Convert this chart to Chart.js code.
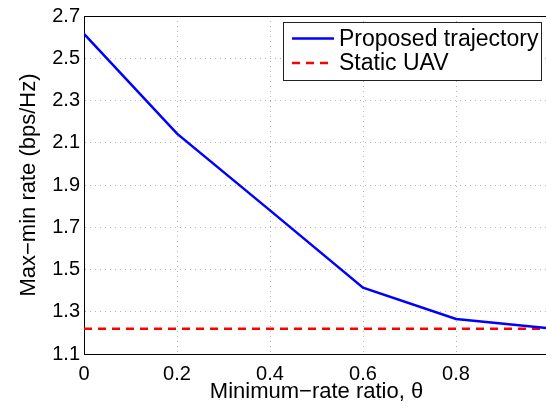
<!DOCTYPE html>
<html>
<head>
<meta charset="utf-8">
<script src="https://cdn.jsdelivr.net/npm/chart.js@4"></script>
<style>
  html, body { margin: 0; padding: 0; overflow: hidden; background: #fff; }
  #wrap { width: 546px; height: 408px; overflow: hidden; }
</style>
</head>
<body>
<div id="wrap"><canvas id="myChart" width="560" height="408"></canvas></div>
<script>
const xValues = [0, 0.2, 0.4, 0.6, 0.8, 1];
const proposedRate = [2.615, 2.143, 1.78, 1.414, 1.266, 1.222];
const staticRate = [1.219, 1.219, 1.219, 1.219, 1.219, 1.219];
const xTicks = [0, 0.2, 0.4, 0.6, 0.8, 1];
const yTicks = [1.1, 1.3, 1.5, 1.7, 1.9, 2.1, 2.3, 2.5, 2.7];

const font = "'Liberation Sans', Arial, Helvetica, sans-serif";
const ctx = document.getElementById("myChart");

// box round the plot and the legend in the top right corner
const boxLegend = {
    id: "boxLegend",
    afterDraw(chart) {
        const c = chart.ctx;
        const a = chart.chartArea;
        c.save();
        c.strokeStyle = "#000";
        c.lineWidth = 1;
        c.beginPath();
        c.moveTo(a.left, a.top + 0.5);
        c.lineTo(a.right, a.top + 0.5);
        c.lineTo(a.right, a.bottom);
        c.stroke();

        const x = 283.5, y = 22.5, w = 258, h = 58;
        c.fillStyle = "#fff";
        c.fillRect(x, y, w, h);
        c.strokeStyle = "#222";
        c.strokeRect(x, y, w, h);
        c.font = "23px " + font;
        c.textBaseline = "middle";
        c.textAlign = "left";
        chart.data.datasets.forEach((ds, i) => {
            const ly = 38.5 + i * 24.5;
            c.strokeStyle = ds.borderColor;
            c.lineWidth = 2.5;
            c.setLineDash(ds.borderDash || []);
            c.beginPath();
            c.moveTo(292, ly);
            c.lineTo(334, ly);
            c.stroke();
            c.setLineDash([]);
            c.fillStyle = "#000";
            c.fillText(ds.label, 339, ly + 1);
        });
        c.restore();
    },
};

new Chart(ctx, {
    type: "line",
    data: {
        datasets: [
            {
                label: "Proposed trajectory",
                data: xValues.map((x, i) => ({ x: x, y: proposedRate[i] })),
                borderColor: "#0000ff",
                borderWidth: 2.5,
                pointRadius: 0,
                tension: 0,
            },
            {
                label: "Static UAV",
                data: xValues.map((x, i) => ({ x: x, y: staticRate[i] })),
                borderColor: "#ff0000",
                borderWidth: 2.5,
                borderDash: [8, 6],
                pointRadius: 0,
            },
        ],
    },
    options: {
        responsive: false,
        animation: false,
        layout: { padding: { top: 15, right: 11, left: 0, bottom: 0 } },
        plugins: { legend: { display: false }, tooltip: { enabled: false } },
        scales: {
            x: {
                type: "linear",
                min: 0,
                max: 1,
                afterBuildTicks: (s) => { s.ticks = xTicks.map((v) => ({ value: v })); },
                afterFit: (s) => { s.height = 54; },
                ticks: {
                    padding: 8,
                    color: "#000",
                    font: { family: font, size: 20 },
                    callback: (v) => (v === 0 ? "0" : v === 1 ? "" : v.toFixed(1)),
                    maxRotation: 0,
                },
                grid: { color: "#b4b4b4", drawTicks: false },
                border: { color: "#000", width: 1, dash: [1, 4] },
                title: {
                    display: true,
                    text: "Minimum\u2212rate ratio, \u03b8",
                    color: "#000",
                    font: { family: font, size: 22 },
                    padding: { top: 0, bottom: 3 },
                },
            },
            y: {
                min: 1.1,
                max: 2.7,
                afterBuildTicks: (s) => { s.ticks = yTicks.map((v) => ({ value: v })); },
                afterFit: (s) => { s.width = 84; },
                ticks: {
                    padding: 4,
                    color: "#000",
                    font: { family: font, size: 20 },
                    callback: (v) => v.toFixed(1),
                },
                grid: { color: "#b4b4b4", drawTicks: false },
                border: { color: "#000", width: 1, dash: [1, 4] },
                title: {
                    display: true,
                    text: "Max\u2212min rate (bps/Hz)",
                    color: "#000",
                    font: { family: font, size: 22 },
                    padding: { top: 16, bottom: 0 },
                },
            },
        },
    },
    plugins: [boxLegend],
});
</script>
</body>
</html>
